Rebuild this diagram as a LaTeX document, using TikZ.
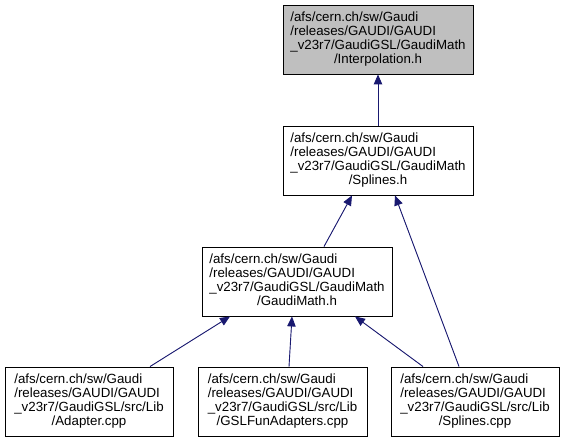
\documentclass[tikz,border=0pt]{standalone}
\usepackage{fontspec}
\setmainfont{Liberation Sans}
\usetikzlibrary{calc,arrows.meta}
\definecolor{edgeblue}{HTML}{191970}
\definecolor{boxgray}{HTML}{BFBFBF}
\newcommand\fourlines[4]{\begin{tabular}{@{}l@{}}#1\\#2\\#3\\\multicolumn{1}{@{}c@{}}{#4}\end{tabular}}
\tikzset{
  filebox/.style={draw=black, line width=0.9pt, fill=white, inner sep=0pt,
    minimum height=69pt, font=\fontsize{13.3}{14}\selectfont},
  widebox/.style={filebox, minimum width=190pt},
  narrowbox/.style={filebox, minimum width=168pt},
  dep/.style={draw=edgeblue, line width=0.9pt, -{Triangle[length=10pt,width=8.5pt]}, fill=edgeblue}
}
\begin{document}
\begin{tikzpicture}[x=1pt,y=-1pt]
\useasboundingbox (0,0) rectangle (565,443);
\node[widebox, fill=boxgray] (interp) at (378,39.5)
  {\fourlines{/afs/cern.ch/sw/Gaudi}{/releases/GAUDI/GAUDI}{\_v23r7/GaudiGSL/GaudiMath}{/Interpolation.h}};
\node[widebox] (splh) at (378,160.5)
  {\fourlines{/afs/cern.ch/sw/Gaudi}{/releases/GAUDI/GAUDI}{\_v23r7/GaudiGSL/GaudiMath}{/Splines.h}};
\node[widebox] (gm) at (297,281.5)
  {\fourlines{/afs/cern.ch/sw/Gaudi}{/releases/GAUDI/GAUDI}{\_v23r7/GaudiGSL/GaudiMath}{/GaudiMath.h}};
\node[narrowbox] (adapter) at (89,401.5)
  {\fourlines{/afs/cern.ch/sw/Gaudi}{/releases/GAUDI/GAUDI}{\_v23r7/GaudiGSL/src/Lib}{/Adapter.cpp}};
\node[narrowbox, minimum width=169pt] (gslfun) at (282.5,401.5)
  {\fourlines{/afs/cern.ch/sw/Gaudi}{/releases/GAUDI/GAUDI}{\_v23r7/GaudiGSL/src/Lib}{/GSLFunAdapters.cpp}};
\node[narrowbox] (splcpp) at (475,401.5)
  {\fourlines{/afs/cern.ch/sw/Gaudi}{/releases/GAUDI/GAUDI}{\_v23r7/GaudiGSL/src/Lib}{/Splines.cpp}};

\draw[dep] (splh.north) -- (interp.south);
\draw[dep] ($(gm.north)+(27,0)$) -- ($(splh.south)+(-26,0)$);
\draw[dep] ($(splcpp.north)+(-16,0)$) -- ($(splh.south)+(17,0)$);
\draw[dep] ($(adapter.north)+(61,0)$) -- ($(gm.south)+(-67,0)$);
\draw[dep] ($(gslfun.north)+(6.5,0)$) -- ($(gm.south)+(-5,0)$);
\draw[dep] ($(splcpp.north)+(-52,0)$) -- ($(gm.south)+(58,0)$);
\end{tikzpicture}
\end{document}
